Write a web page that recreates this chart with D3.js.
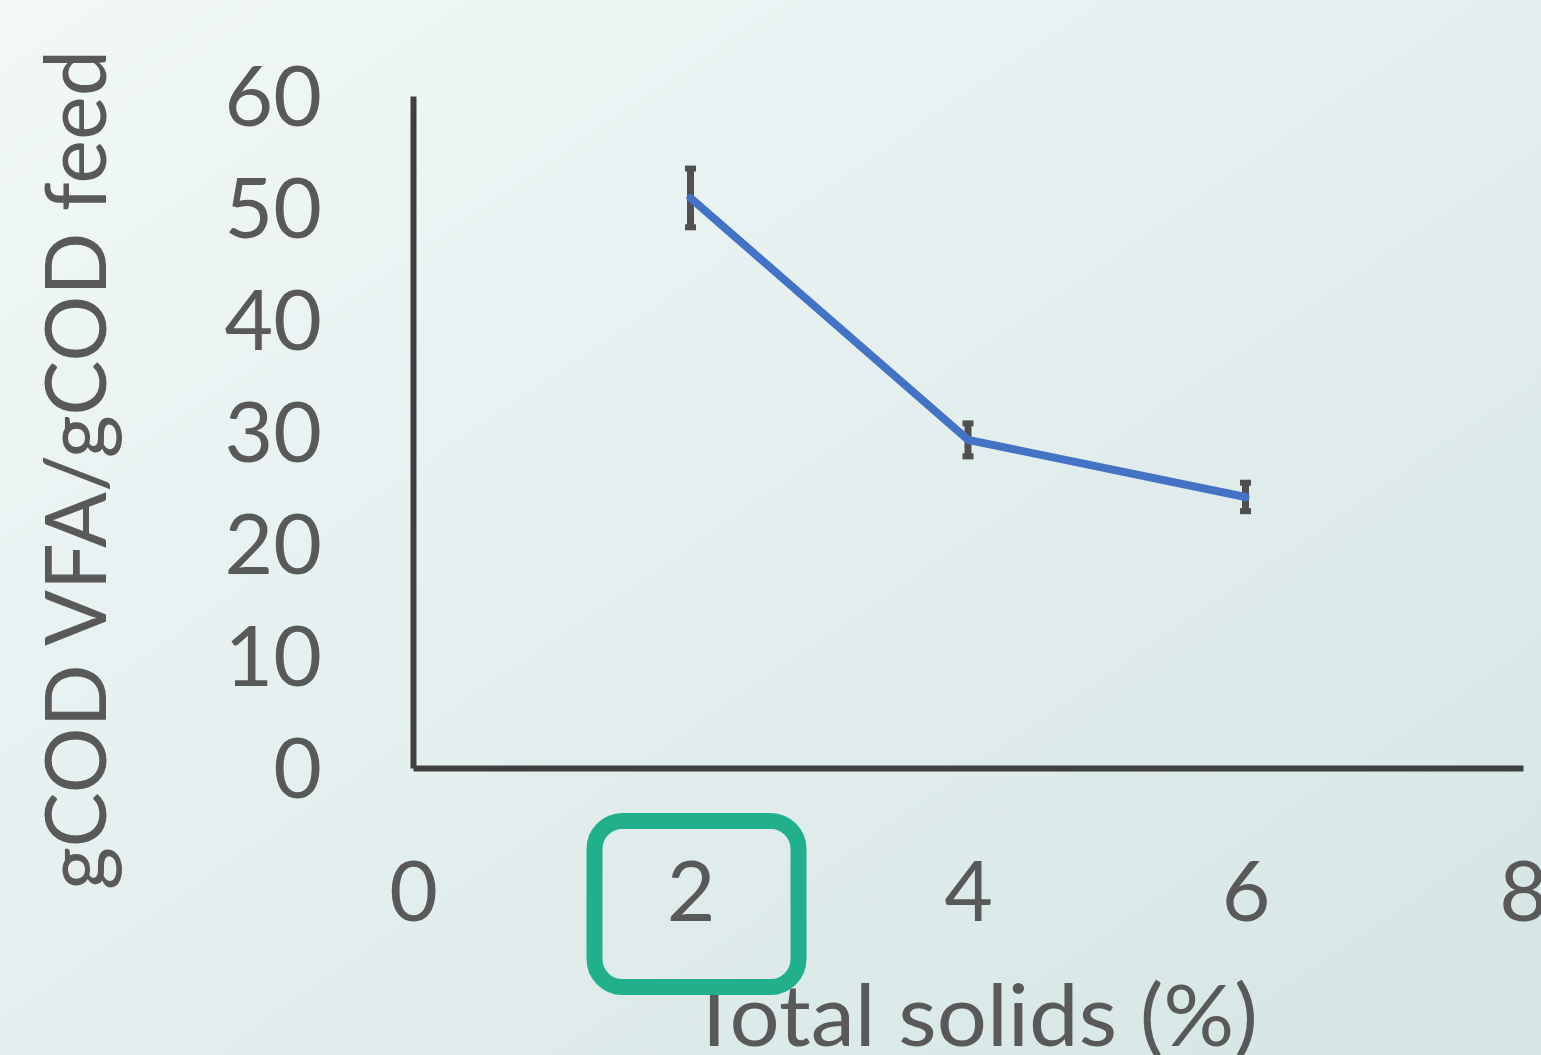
<!DOCTYPE html>
<html>
<head>
<meta charset="utf-8">
<script src="https://cdn.jsdelivr.net/npm/d3@7"></script>
<style>
  html, body { margin: 0; padding: 0; overflow: hidden; }
  svg { display: block; }
  text { font-family: Lato, "Open Sans", sans-serif; fill: #595959; }
</style>
</head>
<body>
<svg id="chart" width="1541" height="1055"></svg>
<script>
// Total solids (%) vs. VFA yield
const solids = [2, 4, 6];
const vfaYield = [50.9, 29.3, 24.2];
const yieldError = [2.8, 1.65, 1.45];
const xTicks = [0, 2, 4, 6, 8];
const yTicks = [0, 10, 20, 30, 40, 50, 60];
const highlighted = 2;

const svg = d3.select("#chart");
const W = 1541, H = 1055;

// soft diagonal background
const defs = svg.append("defs");
const grad = defs.append("linearGradient")
  .attr("id", "bg").attr("x1", 0).attr("y1", 0).attr("x2", 1).attr("y2", 1);
grad.append("stop").attr("offset", 0).attr("stop-color", "#f2f8f8");
grad.append("stop").attr("offset", 1).attr("stop-color", "#d5e5e4");
svg.append("rect").attr("width", W).attr("height", H).attr("fill", "url(#bg)");

const x = d3.scaleLinear().domain([0, 8]).range([413, 1523]);
const y = d3.scaleLinear().domain([0, 60]).range([768, 96]);

// axes
const xAxis = svg.append("g").attr("transform", `translate(0,${y(0)})`)
  .call(d3.axisBottom(x).tickValues(xTicks).tickSize(0).tickPadding(93).tickFormat(d3.format("d")));
const yAxis = svg.append("g").attr("transform", `translate(${x(0)},0)`)
  .call(d3.axisLeft(y).tickValues(yTicks).tickSize(0).tickPadding(91).tickFormat(d3.format("d")));

[xAxis, yAxis].forEach(g => {
  g.select(".domain").attr("stroke", "#404040").attr("stroke-width", 6);
  g.selectAll("text").style("font-size", "84px").attr("fill", "#595959")
    .style("font-family", "Lato, 'Open Sans', sans-serif");
});
xAxis.selectAll("text").attr("dy", "0.71em");
yAxis.selectAll("text").attr("dy", "0.35em");

// axis titles
svg.append("text")
  .attr("x", 973).attr("y", 1046)
  .attr("text-anchor", "middle")
  .attr("textLength", 570)
  .attr("lengthAdjust", "spacingAndGlyphs")
  .style("font-size", "86px")
  .text("Total solids (%)");

svg.append("text")
  .attr("transform", "translate(106,470) rotate(-90)")
  .attr("text-anchor", "middle")
  .attr("textLength", 840)
  .attr("lengthAdjust", "spacingAndGlyphs")
  .style("font-size", "86px")
  .text("gCOD VFA/gCOD feed");

// error bars
const eb = svg.append("g").attr("fill", "#505050");
solids.forEach((s, i) => {
  const top = y(vfaYield[i] + yieldError[i]);
  const bot = y(vfaYield[i] - yieldError[i]);
  eb.append("rect").attr("x", x(s) - 3.5).attr("y", top).attr("width", 7).attr("height", bot - top);
  eb.append("rect").attr("x", x(s) - 5.5).attr("y", top - 1).attr("width", 11).attr("height", 6);
  eb.append("rect").attr("x", x(s) - 5.5).attr("y", bot - 5).attr("width", 11).attr("height", 6);
});

// yield line
const line = d3.line().x((d, i) => x(solids[i])).y(d => y(d));
svg.append("path")
  .datum(vfaYield)
  .attr("d", line)
  .attr("fill", "none")
  .attr("stroke", "#4472c4")
  .attr("stroke-width", 8)
  .attr("stroke-linecap", "round")
  .attr("stroke-linejoin", "round");

// highlight box around the 2% tick
svg.append("rect")
  .attr("x", x(highlighted) - 96).attr("y", 821)
  .attr("width", 204).attr("height", 166)
  .attr("rx", 28).attr("ry", 28)
  .attr("fill", "none")
  .attr("stroke", "#22b08c")
  .attr("stroke-width", 16);
</script>
</body>
</html>
